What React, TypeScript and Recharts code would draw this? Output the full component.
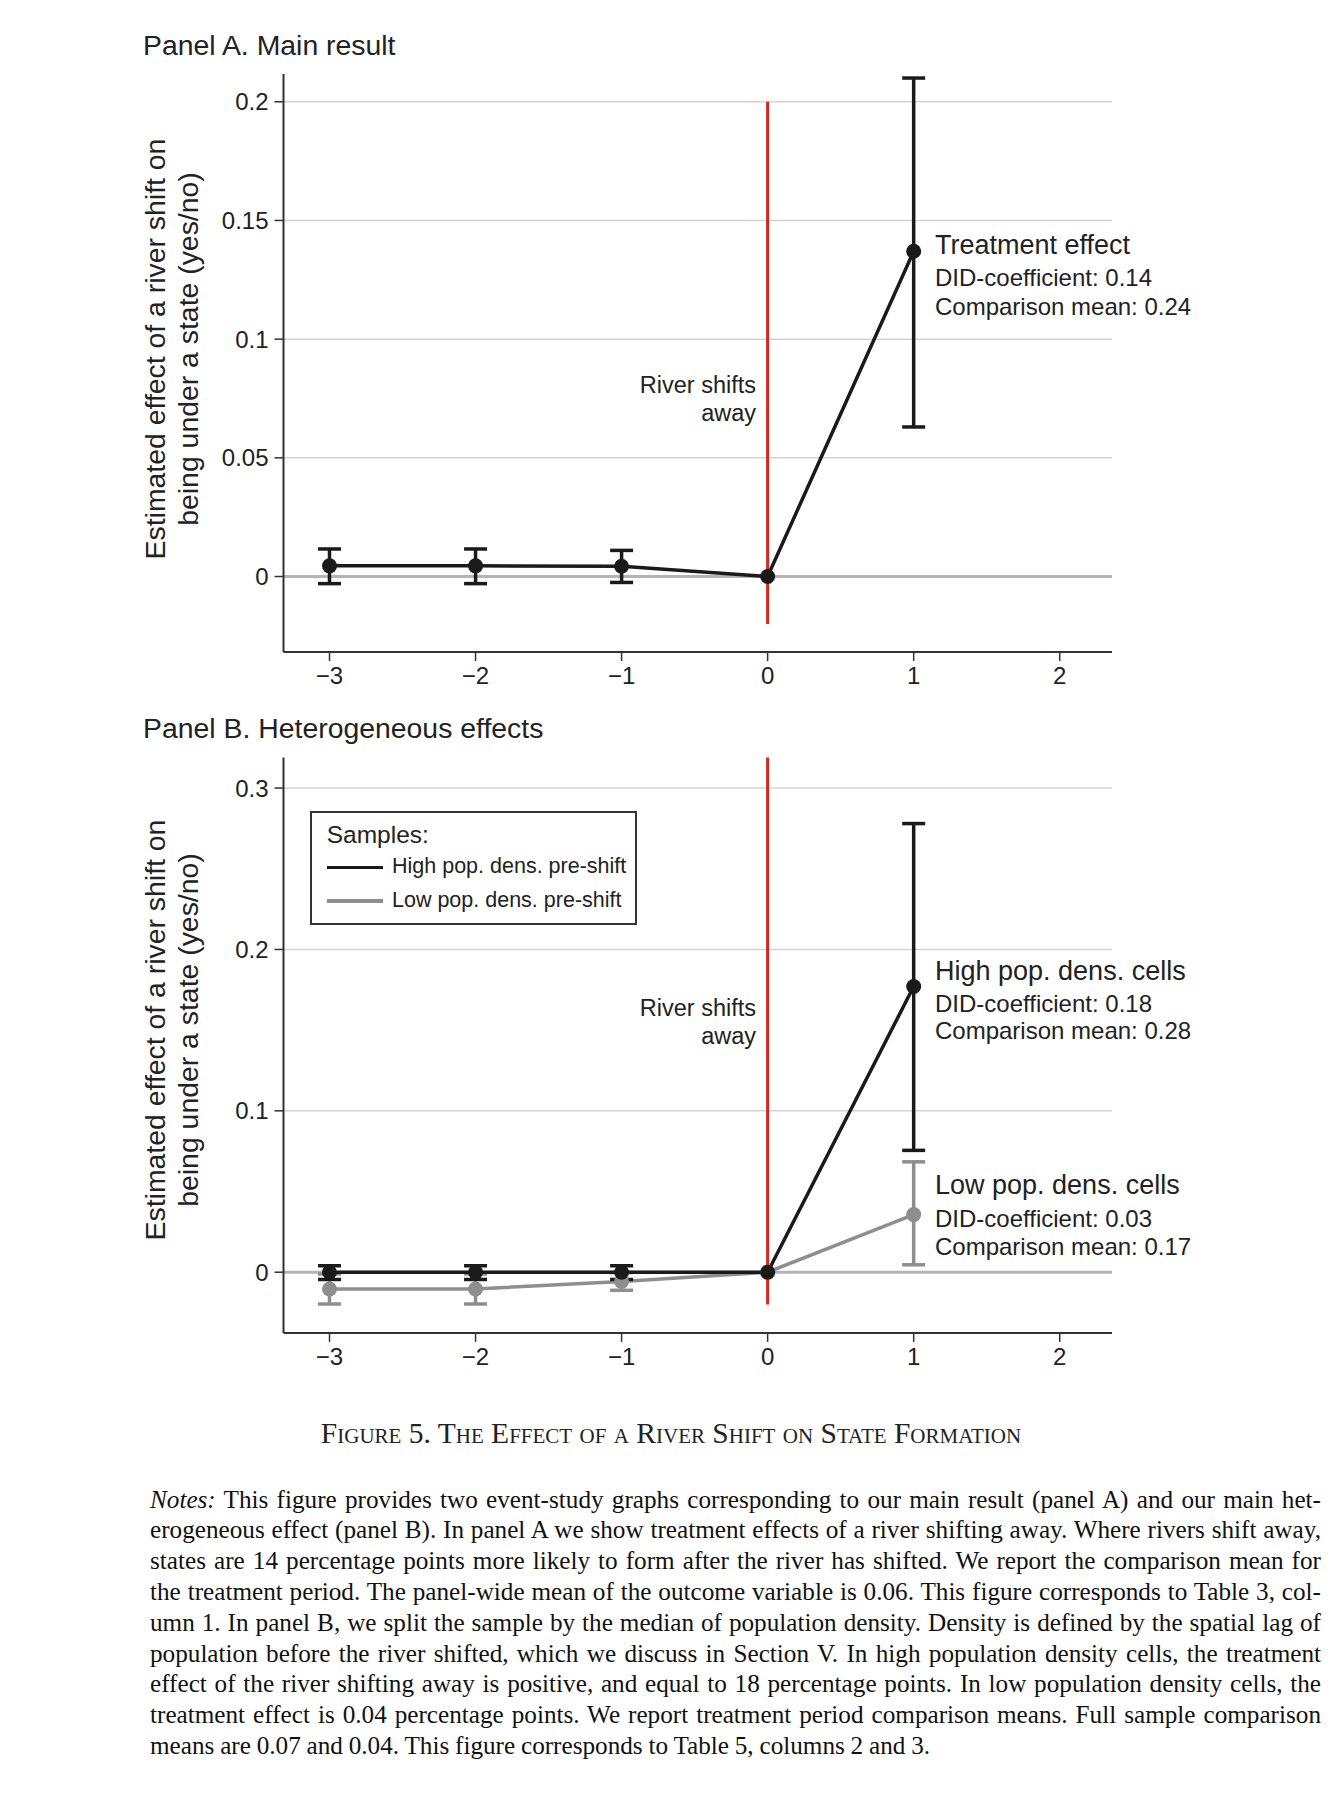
import React from 'react';
import { ComposedChart, Line, ErrorBar, XAxis, YAxis, ReferenceLine } from 'recharts';

const periods = [-3, -2, -1, 0, 1];
const xTicks = [-3, -2, -1, 0, 1, 2];

// Panel A: main result
const mainEst = [0.0045, 0.0045, 0.0043, 0, 0.137];
const mainLo = [-0.003, -0.003, -0.0025, null, 0.063];
const mainHi = [0.0116, 0.0116, 0.011, null, 0.21];
const yTicksA = [0, 0.05, 0.1, 0.15, 0.2];

// Panel B: heterogeneous effects
const highEst = [0, 0, 0, 0, 0.177];
const highLo = [-0.0045, -0.0045, -0.0045, null, 0.0755];
const highHi = [0.004, 0.004, 0.004, null, 0.278];
const lowEst = [-0.0104, -0.0104, -0.0057, 0, 0.0357];
const lowLo = [-0.0197, -0.0197, -0.0112, null, 0.0046];
const lowHi = [-0.0011, -0.0011, -0.0002, null, 0.0684];
const yTicksB = [0, 0.1, 0.2, 0.3];

const notesLines = [
  'This figure provides two event-study graphs corresponding to our main result (panel A) and our main het-',
  'erogeneous effect (panel B). In panel A we show treatment effects of a river shifting away. Where rivers shift away,',
  'states are 14 percentage points more likely to form after the river has shifted. We report the comparison mean for',
  'the treatment period. The panel-wide mean of the outcome variable is 0.06. This figure corresponds to Table 3, col-',
  'umn 1. In panel B, we split the sample by the median of population density. Density is defined by the spatial lag of',
  'population before the river shifted, which we discuss in Section V. In high population density cells, the treatment',
  'effect of the river shifting away is positive, and equal to 18 percentage points. In low population density cells, the',
  'treatment effect is 0.04 percentage points. We report treatment period comparison means. Full sample comparison',
  'means are 0.07 and 0.04. This figure corresponds to Table 5, columns 2 and 3.',
];

const errOf = (est: number, lo: number | null, hi: number | null) =>
  lo == null || hi == null ? null : [est - lo, hi - est];

const dataA = periods.map((x, i) => ({
  x,
  est: mainEst[i],
  err: errOf(mainEst[i], mainLo[i], mainHi[i]),
}));

const dataB = periods.map((x, i) => ({
  x,
  high: highEst[i],
  highErr: errOf(highEst[i], highLo[i], highHi[i]),
  low: lowEst[i],
  lowErr: errOf(lowEst[i], lowLo[i], lowHi[i]),
}));

const SANS = '"Liberation Sans", Arial, Helvetica, sans-serif';
const SERIF = '"Liberation Serif", "Times New Roman", serif';
const BLACK = '#1a1a1a';
const GRAY = '#8e8e8e';
const RED = '#dc231b';

const fmtX = (v: number) => (v < 0 ? '\u2212' + Math.abs(v) : String(v));
const tickStyle = { fontSize: 24, fill: '#222', fontFamily: SANS };

// text block placed by its vertical centre
const T = ({ x, y, size, children, right }: any) => (
  <div
    style={{
      position: 'absolute',
      top: y - size * 0.6,
      lineHeight: `${size * 1.2}px`,
      fontSize: size,
      whiteSpace: 'nowrap',
      ...(right ? { right: 1342 - x, textAlign: 'right' } : { left: x }),
    }}
  >
    {children}
  </div>
);

const YTitle = ({ y }: { y: number }) => (
  <div
    style={{
      position: 'absolute',
      left: 171.5,
      top: y,
      transform: 'translate(-50%, -50%) rotate(-90deg)',
      whiteSpace: 'nowrap',
      textAlign: 'center',
      fontSize: 28.4,
      lineHeight: '33px',
    }}
  >
    Estimated effect of a river shift on
    <br />
    being under a state (yes/no)
  </div>
);

const axes = (domain: number[], yTicks: number[]) => [
  <XAxis
    key="x"
    type="number"
    dataKey="x"
    domain={[-3.315, 2.358]}
    ticks={xTicks}
    allowDataOverflow
    tickFormatter={fmtX}
    height={40}
    tickSize={9}
    tickMargin={6}
    tick={tickStyle}
    tickLine={{ stroke: '#333', strokeWidth: 1.5 }}
    axisLine={{ stroke: '#333', strokeWidth: 2 }}
  />,
  <YAxis
    key="y"
    type="number"
    domain={domain}
    ticks={yTicks}
    allowDataOverflow
    width={80}
    tickSize={9}
    tickMargin={6}
    tick={tickStyle}
    tickLine={{ stroke: '#333', strokeWidth: 1.5 }}
    axisLine={{ stroke: '#333', strokeWidth: 2 }}
  />,
  ...yTicks
    .filter((v) => v !== 0)
    .map((v) => <ReferenceLine key={'g' + v} y={v} stroke="#d4d4d4" strokeWidth={1.5} />),
  <ReferenceLine key="zero" y={0} stroke="#b4b4b4" strokeWidth={3} />,
];

const App = () => {
  return (
    <div
      style={{
        position: 'relative',
        width: 1342,
        height: 1794,
        background: '#fff',
        fontFamily: SANS,
        color: '#222',
        overflow: 'hidden',
      }}
    >
      <style>{'body{margin:0}'}</style>

      {/* Panel A */}
      <T x={143} y={45} size={28.4}>Panel A. Main result</T>
      <YTitle y={349} />
      <div style={{ position: 'absolute', left: 0, top: 0 }}>
        <ComposedChart width={1342} height={700} data={dataA} margin={{ top: 74, right: 230, bottom: 8, left: 203.5 }}>
          {axes([-0.0318, 0.2117], yTicksA)}
          <ReferenceLine segment={[{ x: 0, y: -0.02 }, { x: 0, y: 0.2 }]} stroke={RED} strokeWidth={3} />
          <Line
            dataKey="est"
            stroke={BLACK}
            strokeWidth={3.5}
            dot={{ r: 7.5, fill: BLACK, stroke: 'none' }}
            isAnimationActive={false}
          >
            <ErrorBar dataKey="err" direction="y" width={11.5} strokeWidth={3.5} stroke={BLACK} />
          </Line>
        </ComposedChart>
      </div>
      <T x={756} y={385} size={23.5} right>River shifts<br />away</T>
      <T x={935} y={245} size={27}>Treatment effect</T>
      <T x={935} y={278.5} size={24}>DID-coefficient: 0.14</T>
      <T x={935} y={307} size={24}>Comparison mean: 0.24</T>

      {/* Panel B */}
      <T x={143} y={728} size={28.4}>Panel B. Heterogeneous effects</T>
      <YTitle y={1030} />
      <div style={{ position: 'absolute', left: 0, top: 700 }}>
        <ComposedChart width={1342} height={700} data={dataB} margin={{ top: 57.4, right: 230, bottom: 27.1, left: 203.5 }}>
          {axes([-0.0376, 0.319], yTicksB)}
          <ReferenceLine segment={[{ x: 0, y: -0.02 }, { x: 0, y: 0.319 }]} stroke={RED} strokeWidth={3} />
          <Line
            dataKey="low"
            stroke={GRAY}
            strokeWidth={3.5}
            dot={{ r: 7.5, fill: GRAY, stroke: 'none' }}
            isAnimationActive={false}
          >
            <ErrorBar dataKey="lowErr" direction="y" width={11.5} strokeWidth={3.5} stroke={GRAY} />
          </Line>
          <Line
            dataKey="high"
            stroke={BLACK}
            strokeWidth={3.5}
            dot={{ r: 7.5, fill: BLACK, stroke: 'none' }}
            isAnimationActive={false}
          >
            <ErrorBar dataKey="highErr" direction="y" width={11.5} strokeWidth={3.5} stroke={BLACK} />
          </Line>
        </ComposedChart>
      </div>
      <T x={756} y={1008} size={23.5} right>River shifts<br />away</T>
      <T x={935} y={971} size={27}>High pop. dens. cells</T>
      <T x={935} y={1004} size={24}>DID-coefficient: 0.18</T>
      <T x={935} y={1031.5} size={24}>Comparison mean: 0.28</T>
      <T x={935} y={1185.5} size={27}>Low pop. dens. cells</T>
      <T x={935} y={1219} size={24}>DID-coefficient: 0.03</T>
      <T x={935} y={1247.5} size={24}>Comparison mean: 0.17</T>

      {/* legend box */}
      <div
        style={{
          position: 'absolute',
          left: 310,
          top: 811,
          width: 327,
          height: 114,
          boxSizing: 'border-box',
          border: '2px solid #333',
          background: '#fff',
        }}
      />
      <T x={326.7} y={835} size={24.5}>Samples:</T>
      <div style={{ position: 'absolute', left: 327, top: 865.5, width: 56, height: 3.5, background: BLACK }} />
      <T x={392} y={867} size={21.5}>High pop. dens. pre-shift</T>
      <div style={{ position: 'absolute', left: 327, top: 899.2, width: 56, height: 3.5, background: GRAY }} />
      <T x={392} y={900.7} size={21.5}>Low pop. dens. pre-shift</T>

      {/* caption and notes */}
      <div
        style={{
          position: 'absolute',
          left: 0,
          width: 1342,
          top: 1432.5 - 18,
          lineHeight: '36px',
          textAlign: 'center',
          fontFamily: SERIF,
          fontVariant: 'small-caps',
          fontSize: 29.5,
          color: '#222',
        }}
      >
        Figure 5. The Effect of a River Shift on State Formation
      </div>
      <div
        style={{
          position: 'absolute',
          left: 150,
          width: 1171,
          top: 1500 - 15.4,
          fontFamily: SERIF,
          fontSize: 25.2,
          wordSpacing: -0.5,
          lineHeight: '30.8px',
          color: '#111',
        }}
      >
        {notesLines.map((line, i) => (
          <div
            key={i}
            style={{
              textAlign: i === notesLines.length - 1 ? 'left' : 'justify',
              textAlignLast: i === notesLines.length - 1 ? 'left' : 'justify',
              whiteSpace: 'nowrap',
            }}
          >
            {i === 0 && <i>Notes:</i>}
            {i === 0 ? ' ' : ''}
            {line}
          </div>
        ))}
      </div>
    </div>
  );
};

export default App;
